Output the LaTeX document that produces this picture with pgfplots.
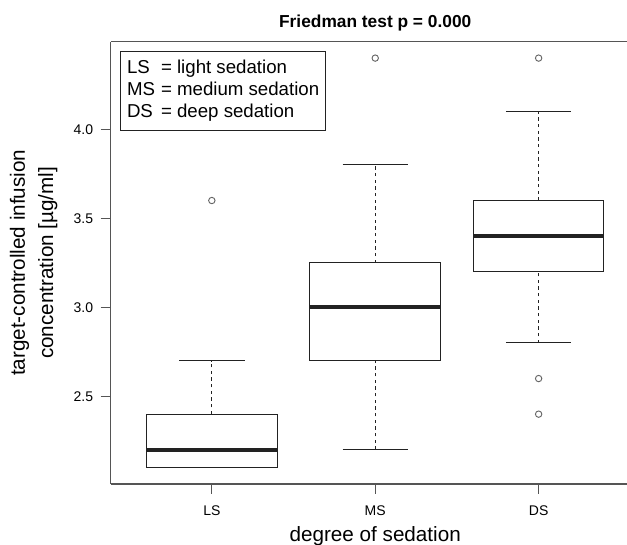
\documentclass[border=0pt]{standalone}
\usepackage{fontspec}
\setmainfont{Liberation Sans}
\usepackage{pgfplots}
\pgfplotsset{compat=1.18}
\definecolor{frameink}{HTML}{555555}
\definecolor{boxink}{HTML}{222222}
\definecolor{outink}{HTML}{666666}
\begin{document}
\begin{tikzpicture}
\begin{axis}[
  at={(0,0)}, anchor=south west,
  scale only axis, width=397.1pt, height=331.7pt,
  xmin=0.38, xmax=3.62, ymin=2.008, ymax=4.492,
  axis x line*=box, axis y line*=left,
  axis line style={-, frameink, line width=0.9pt},
  xtick={1,2,3}, xticklabels={LS,MS,DS},
  ytick={2.5,3,3.5,4},
  /pgf/number format/assume math mode=true,
  tick align=outside, tick pos=left,
  major tick length=7.5pt,
  every tick/.style={frameink, line width=0.9pt},
  tick label style={font=\fontsize{10.5}{12}\selectfont, text=black},
  xticklabel style={yshift=-5.5pt},
  yticklabel style={xshift=-2pt, /pgf/number format/.cd, fixed, fixed zerofill, precision=1},
  xlabel={degree of sedation},
  xlabel style={at={(axis description cs:0.5,0)}, anchor=base, yshift=-43pt,
    font=\fontsize{15.5}{18}\selectfont},
  ylabel={target-controlled infusion\\concentration [µg/ml]},
  ylabel style={at={(axis description cs:-0.0997,0.5)}, rotate=0, anchor=south,
    inner sep=0pt, align=center, font=\fontsize{15.5}{21.2}\selectfont},
  unbounded coords=jump,
  clip=false,
]
% boxes (q1..q3)
\addplot[boxink, line width=0.75pt, mark=none] coordinates {
  (0.6,2.1) (1.4,2.1) (1.4,2.4) (0.6,2.4) (0.6,2.1) (nan,nan)
  (1.6,2.7) (2.4,2.7) (2.4,3.25) (1.6,3.25) (1.6,2.7) (nan,nan)
  (2.6,3.2) (3.4,3.2) (3.4,3.6) (2.6,3.6) (2.6,3.2)};
% medians
\addplot[boxink, line width=3.2pt, mark=none] coordinates {
  (0.6,2.2) (1.4,2.2) (nan,nan)
  (1.6,3.0) (2.4,3.0) (nan,nan)
  (2.6,3.4) (3.4,3.4)};
% whiskers
\addplot[boxink, line width=0.75pt, dash pattern=on 2.5pt off 2.5pt, mark=none] coordinates {
  (1,2.4) (1,2.7) (nan,nan)
  (2,2.2) (2,2.7) (nan,nan) (2,3.25) (2,3.8) (nan,nan)
  (3,2.8) (3,3.2) (nan,nan) (3,3.6) (3,4.1)};
% whisker caps
\addplot[boxink, line width=0.75pt, mark=none] coordinates {
  (0.8,2.1) (1.2,2.1) (nan,nan) (0.8,2.7) (1.2,2.7) (nan,nan)
  (1.8,2.2) (2.2,2.2) (nan,nan) (1.8,3.8) (2.2,3.8) (nan,nan)
  (2.8,2.8) (3.2,2.8) (nan,nan) (2.8,4.1) (3.2,4.1)};
% outliers
\addplot[only marks, mark=o, mark size=2.4pt, outink, line width=0.7pt] coordinates {
  (1,3.6) (2,4.4) (3,4.4) (3,2.6) (3,2.4)};

\node[font=\bfseries\fontsize{13}{15}\selectfont, anchor=base]
  at ([yshift=10.5pt]rel axis cs:0.5,1) {Friedman test p = 0.000};
\node[draw=boxink, line width=0.75pt, anchor=north west, inner xsep=5pt, inner ysep=5pt,
  fill=white, font=\fontsize{14}{16.5}\selectfont]
  at ([xshift=7pt,yshift=-7pt]rel axis cs:0,1)
  {\begin{tabular}{@{}l@{\hspace{4.5pt}}l@{}}
   LS & = light sedation\\
   MS & = medium sedation\\
   DS & = deep sedation
   \end{tabular}};
\end{axis}
\pgfresetboundingbox
\useasboundingbox (-82.9pt,-45.75pt) rectangle (387.4pt,363pt);
\end{tikzpicture}
\end{document}
